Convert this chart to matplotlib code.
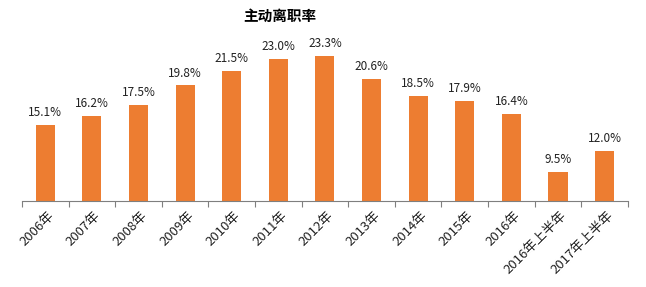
import matplotlib.pyplot as plt
import numpy as np

plt.rcParams['font.family'] = ['Noto Sans CJK SC', 'DejaVu Sans']

categories = ['2006年', '2007年', '2008年', '2009年', '2010年', '2011年', '2012年',
              '2013年', '2014年', '2015年', '2016年', '2016年上半年', '2017年上半年']
rates = [15.1, 16.2, 17.5, 19.8, 21.5, 23.0, 23.3, 20.6, 18.5, 17.9, 16.4, 9.5, 12.0]

fig = plt.figure(figsize=(6.46, 2.87), dpi=100)
ax = fig.add_axes([0.034, 0.30, 0.938, 0.595])

x = np.arange(len(categories))
ax.bar(x, [r - 6 for r in rates], bottom=6, width=0.41, color='#ED7D31')
for xi, r in zip(x, rates):
    ax.text(xi, r + 0.7, f'{r:.1f}%', ha='center', va='bottom', fontsize=8.5, color='#222222')

ax.set_xlim(-0.5, len(categories) - 0.5)
ax.set_ylim(6, 26.4)
ax.set_yticks([])
for s in ['top', 'right', 'left']:
    ax.spines[s].set_visible(False)
ax.spines['bottom'].set_color('#7f7f7f')

ax.set_xticks(np.arange(-0.5, len(categories)), minor=False)
ax.set_xticklabels([])
ax.tick_params(axis='x', which='major', length=4, color='#7f7f7f', direction='out')
ax.set_xticks(x + 0.05, minor=True)
ax.set_xticklabels(categories, minor=True, rotation=45, ha='right',
                   rotation_mode='anchor', fontsize=9.5, color='#222222')
ax.tick_params(axis='x', which='minor', length=0, pad=6)

fig.text(0.433, 0.945, '主动离职率', ha='center', va='center', fontsize=10.5, fontweight='bold')

plt.savefig('out.png', dpi=100)
